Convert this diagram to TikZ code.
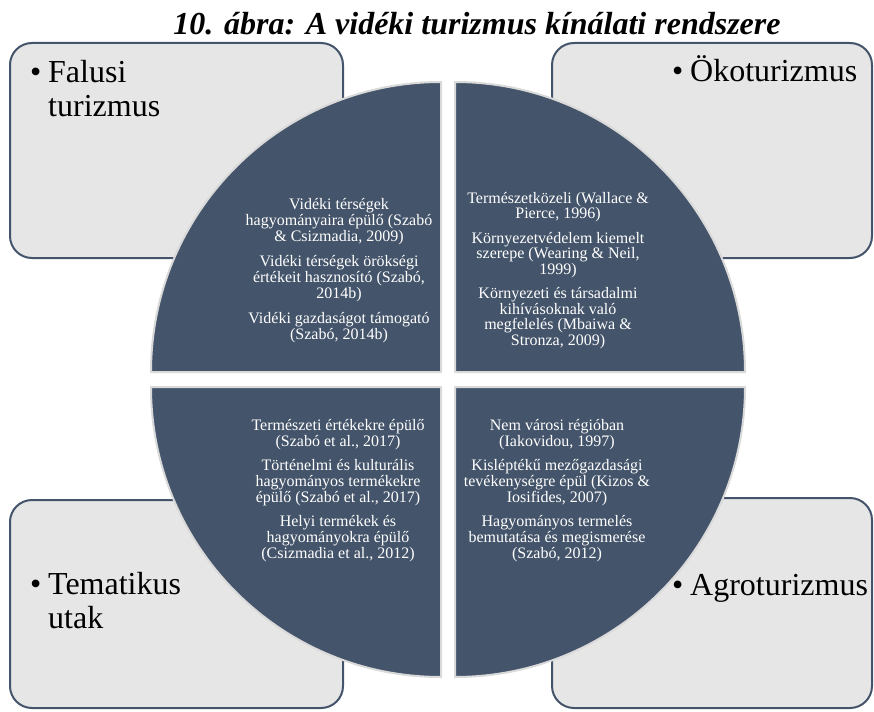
\documentclass[tikz,border=0pt]{standalone}
\usepackage{fontspec}
\setmainfont{Liberation Serif}

\definecolor{slateblue}{RGB}{68,84,106}
\definecolor{boxgray}{RGB}{231,230,230}
\definecolor{rimgray}{RGB}{217,217,217}
\newcommand{\bul}{\makebox[18pt][l]{•}}
\newcommand{\ind}{\hspace*{18pt}}

\begin{document}
\begin{tikzpicture}[x=1pt,y=-1pt,line join=round,
        card/.style={draw=slateblue,fill=boxgray,line width=2pt,rounded corners=22pt},
        quarter/.style={fill=slateblue,draw=rimgray,line width=2pt},
        bigtext/.style={inner sep=0pt,align=left,font=\fontsize{32}{34}\selectfont},
        smalltext/.style={inner sep=0pt,align=center,text=white,font=\fontsize{16}{16}\selectfont}]
        \useasboundingbox (0,0) rectangle (874,711);

        \node[anchor=base,inner sep=0pt,font=\fontsize{32}{34}\selectfont\bfseries\itshape] (title)
            at (477,35) {10. ábra: A vidéki turizmus kínálati rendszere};

        % corner boxes
        \draw[card] (10,43) rectangle (343,258);
        \draw[card] (552,43) rectangle (872,258);
        \draw[card] (10,500) rectangle (343,708);
        \draw[card] (552,498) rectangle (872,708);

        % base of a node with several lines = its last line
        \node[bigtext,anchor=base west] (falusi) at (30,117) {\bul Falusi\\\ind turizmus};
        \node[bigtext,anchor=base west] (oko) at (672,82) {\bul Ökoturizmus};
        \node[bigtext,anchor=base west] (tematikus) at (30,628) {\bul Tematikus\\\ind utak};
        \node[bigtext,anchor=base west] (agro) at (672,595) {\bul Agroturizmus};

        % the four quarters of the disc
        \draw[quarter] (441,372) -- ++(-290pt,0pt) arc[start angle=180,end angle=90,radius=290pt] -- cycle;
        \draw[quarter] (455,372) -- ++(0pt,290pt) arc[start angle=90,end angle=0,radius=290pt] -- cycle;
        \draw[quarter] (455,387) -- ++(290pt,0pt) arc[start angle=0,end angle=-90,radius=290pt] -- cycle;
        \draw[quarter] (441,387) -- ++(0pt,-290pt) arc[start angle=270,end angle=180,radius=290pt] -- cycle;

        \node[smalltext,anchor=base] (falusitext) at (339,339) {Vidéki térségek\\hagyományaira épülő (Szabó\\\& Csizmadia, 2009)\\[9pt]
            Vidéki térségek örökségi\\értékeit hasznosító (Szabó,\\2014b)\\[9pt]
            Vidéki gazdaságot támogató\\(Szabó, 2014b)};
        \node[smalltext,anchor=base,font=\fontsize{16}{15.5}\selectfont] (okotext) at (558,345) {Természetközeli (Wallace \&\\Pierce, 1996)\\[9pt]
            Környezetvédelem kiemelt\\szerepe (Wearing \& Neil,\\1999)\\[9pt]
            Környezeti és társadalmi\\kihívásoknak való\\megfelelés (Mbaiwa \&\\Stronza, 2009)};
        \node[smalltext,anchor=base] (tematikustext) at (338,558) {Természeti értékekre épülő\\(Szabó et al., 2017)\\[8pt]
            Történelmi és kulturális\\hagyományos termékekre\\épülő (Szabó et al., 2017)\\[8pt]
            Helyi termékek és\\hagyományokra épülő\\(Csizmadia et al., 2012)};
        \node[smalltext,anchor=base] (agrotext) at (557,558) {Nem városi régióban\\(Iakovidou, 1997)\\[8pt]
            Kisléptékű mezőgazdasági\\tevékenységre épül (Kizos \&\\Iosifides, 2007)\\[8pt]
            Hagyományos termelés\\bemutatása és megismerése\\(Szabó, 2012)};
    \end{tikzpicture}
\end{document}
